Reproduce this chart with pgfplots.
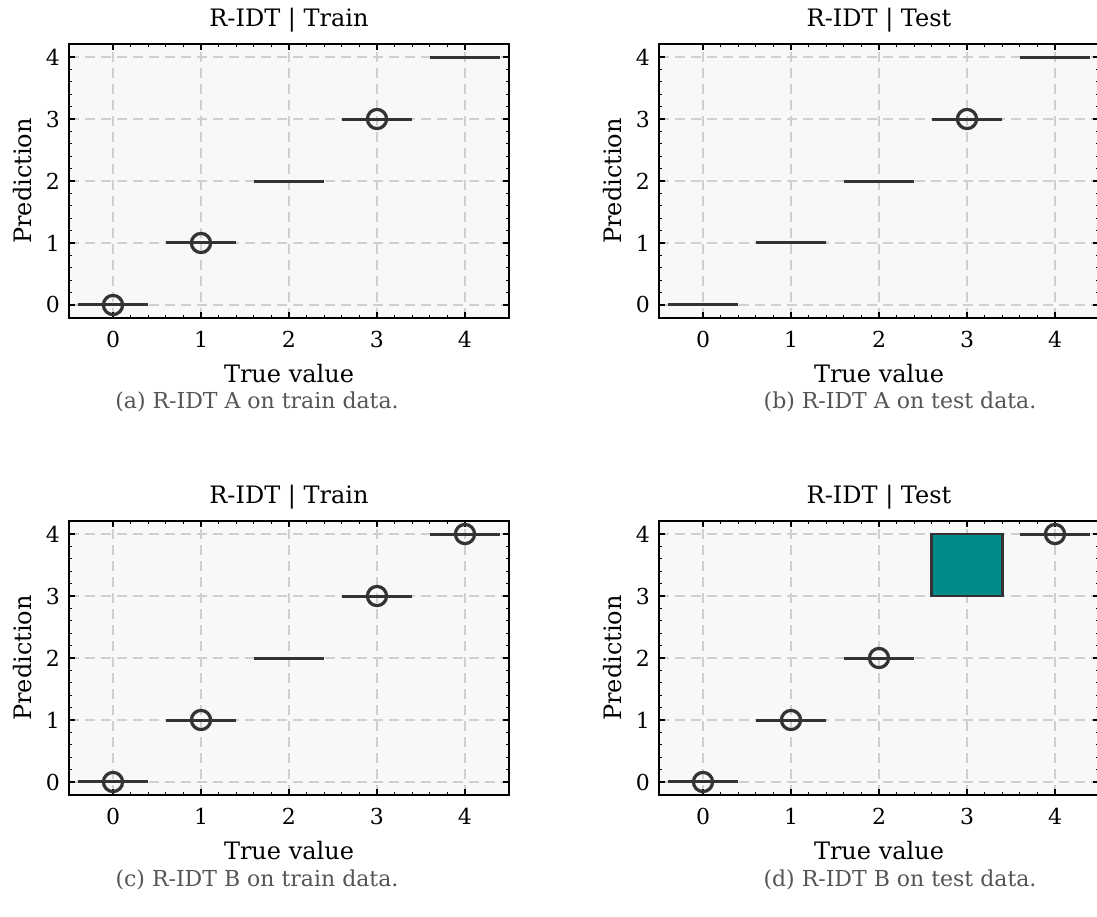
\documentclass[border=0pt]{standalone}
\usepackage{fontspec}
\setmainfont{DejaVu Serif}
\usepackage{pgfplots}
\pgfplotsset{compat=1.18}
\usepgfplotslibrary{statistics}
\definecolor{boxc}{HTML}{333333}
\definecolor{tealc}{HTML}{008B8B}
\definecolor{gridc}{HTML}{CFCFCF}
\definecolor{bgc}{HTML}{F8F8F8}
\definecolor{capc}{HTML}{555555}
\pgfplotsset{
  panel/.style={
    scale only axis, width=220pt, height=137pt,
    xmin=-0.5, xmax=4.5, ymin=-0.21, ymax=4.21,
    xtick={0,1,2,3,4}, ytick={0,1,2,3,4},
    minor tick num=4,
    tick align=inside,
    major tick length=3pt, minor tick length=1.6pt,
    every tick/.style={black, line width=0.6pt},
    axis line style={black, line width=0.8pt},
    axis background/.style={fill=bgc},
    grid=major,
    major grid style={gridc, dash pattern=on 5pt off 3pt, line width=0.6pt},
    tick label style={font=\fontsize{11}{13}\selectfont},
    xticklabel style={yshift=-3pt},
    yticklabel style={xshift=-1pt},
    /pgf/number format/assume math mode=true,
    label style={font=\fontsize{12}{14}\selectfont},
    xlabel style={yshift=-1.5pt},
    title style={font=\fontsize{12}{14}\selectfont, yshift=-3.5pt},
    xlabel={True value}, ylabel={Prediction},
    clip=false,
    boxplot/draw direction=y,
  },
  % degenerate box (Q1 = median = Q3): a flat line of width 0.8
  med/.style={draw=boxc, line width=1.5pt, line cap=butt, mark=none},
  % outliers
  fl/.style={only marks, mark=o, mark size=4.8pt,
    mark options={solid, draw=boxc, line width=1.6pt, fill=none}},
}
\begin{document}
\begin{tikzpicture}
\useasboundingbox (0,0) rectangle (548.5pt,-458pt);
% (a)
\begin{axis}[panel, at={(34.5pt,-22pt)}, anchor=north west, title={R-IDT | Train}]
\addplot[med] coordinates {(-0.4,0) (0.4,0)};
\addplot[med] coordinates {(0.6,1) (1.4,1)};
\addplot[med] coordinates {(1.6,2) (2.4,2)};
\addplot[med] coordinates {(2.6,3) (3.4,3)};
\addplot[med] coordinates {(3.6,4) (4.4,4)};
\addplot[fl] coordinates {(0,0) (1,1) (3,3)};
\end{axis}
% (b)
\begin{axis}[panel, at={(329.5pt,-22pt)}, anchor=north west, title={R-IDT | Test}]
\addplot[med] coordinates {(-0.4,0) (0.4,0)};
\addplot[med] coordinates {(0.6,1) (1.4,1)};
\addplot[med] coordinates {(1.6,2) (2.4,2)};
\addplot[med] coordinates {(2.6,3) (3.4,3)};
\addplot[med] coordinates {(3.6,4) (4.4,4)};
\addplot[fl] coordinates {(3,3)};
\end{axis}
% (c)
\begin{axis}[panel, at={(34.5pt,-260.5pt)}, anchor=north west, title={R-IDT | Train}]
\addplot[med] coordinates {(-0.4,0) (0.4,0)};
\addplot[med] coordinates {(0.6,1) (1.4,1)};
\addplot[med] coordinates {(1.6,2) (2.4,2)};
\addplot[med] coordinates {(2.6,3) (3.4,3)};
\addplot[med] coordinates {(3.6,4) (4.4,4)};
\addplot[fl] coordinates {(0,0) (1,1) (3,3) (4,4)};
\end{axis}
% (d)
\begin{axis}[panel, at={(329.5pt,-260.5pt)}, anchor=north west, title={R-IDT | Test}]
\addplot[med] coordinates {(-0.4,0) (0.4,0)};
\addplot[med] coordinates {(0.6,1) (1.4,1)};
\addplot[med] coordinates {(1.6,2) (2.4,2)};
\addplot[draw=boxc, line width=1.4pt, fill=tealc,
  boxplot/every box/.style={draw=boxc, line width=1.4pt, fill=tealc},
  boxplot/every median/.style={draw=boxc, line width=1.4pt},
  boxplot/every whisker/.style={draw=boxc, line width=1.4pt},
  boxplot prepared={draw position=3, box extend=0.8, whisker extend=0,
  lower whisker=3, lower quartile=3, median=4, upper quartile=4, upper whisker=4}] coordinates {};
\addplot[med] coordinates {(3.6,4) (4.4,4)};
\addplot[fl] coordinates {(0,0) (1,1) (2,2) (4,4)};
\end{axis}
% captions
\node[text=capc, font=\fontsize{11}{13}\selectfont] at (128.5pt,-201pt) {(a) R-IDT A on train data.};
\node[text=capc, font=\fontsize{11}{13}\selectfont] at (450pt,-201pt) {(b) R-IDT A on test data.};
\node[text=capc, font=\fontsize{11}{13}\selectfont] at (128.5pt,-440pt) {(c) R-IDT B on train data.};
\node[text=capc, font=\fontsize{11}{13}\selectfont] at (450pt,-440pt) {(d) R-IDT B on test data.};
\end{tikzpicture}
\end{document}
